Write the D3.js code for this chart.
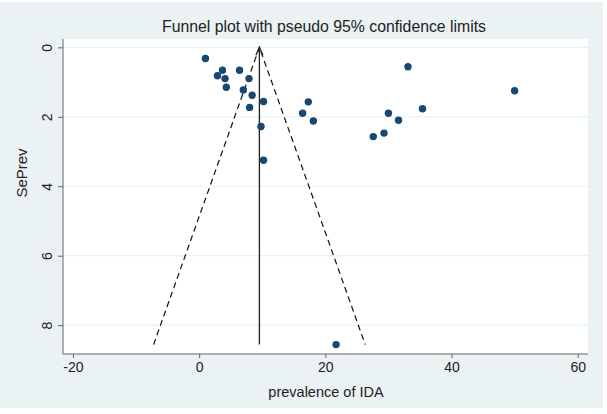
<!DOCTYPE html>
<html><head><meta charset="utf-8">
<script src="https://cdn.jsdelivr.net/npm/d3@7"></script>
<style>html,body{margin:0;padding:0;background:#fff;}svg{display:block;}</style>
</head><body>
<script>
// Data
const prevalence = [1.0, 3.7, 6.4, 2.9, 4.1, 7.9, 4.3, 7.0, 8.4, 10.2, 8.0, 17.3, 16.4, 9.8, 10.2, 18.1, 33.1, 30.0, 31.6, 27.6, 29.3, 35.4, 50.0, 21.7];
const sePrev     = [0.32, 0.66, 0.66, 0.82, 0.90, 0.90, 1.15, 1.23, 1.38, 1.56, 1.73, 1.57, 1.90, 2.28, 3.25, 2.12, 0.56, 1.90, 2.10, 2.57, 2.47, 1.77, 1.25, 8.56];
const pooled = 9.55;
const maxSe = 8.56;
const xTicks = [-20, 0, 20, 40, 60];
const yTicks = [0, 2, 4, 6, 8];
const titleText = "Funnel plot with pseudo 95% confidence limits";
const xLabel = "prevalence of IDA";
const yLabel = "SePrev";

const W = 607, H = 414;
const plot = {l: 63, r: 588, t: 39, b: 354};
const svg = d3.select("body").append("svg").attr("width", W).attr("height", H);
svg.append("rect").attr("x", 0).attr("y", 2).attr("width", 603).attr("height", 406).attr("fill", "#eaf2f3");
svg.append("rect").attr("x", plot.l).attr("y", plot.t).attr("width", plot.r - plot.l).attr("height", plot.b - plot.t).attr("fill", "#fff");

const x = d3.scaleLinear().domain([-21.58, 61.63]).range([plot.l, plot.r]);
const y = d3.scaleLinear().domain([-0.24, 8.83]).range([plot.t, plot.b]);

// grid
svg.append("g").selectAll("line").data(yTicks).join("line")
  .attr("x1", plot.l).attr("x2", plot.r).attr("y1", d => y(d)).attr("y2", d => y(d))
  .attr("stroke", "#e8f1f4").attr("stroke-width", 1.2);

const font = "'Liberation Sans', Arial, sans-serif";
const fmt = d => String(d);
// axes
const xAxis = svg.append("g").attr("transform", `translate(0,${plot.b})`)
  .call(d3.axisBottom(x).tickValues(xTicks).tickSize(4).tickPadding(4).tickFormat(fmt));
const yAxis = svg.append("g").attr("transform", `translate(${plot.l},0)`)
  .call(d3.axisLeft(y).tickValues(yTicks).tickSize(5).tickPadding(3).tickFormat(fmt));
[xAxis, yAxis].forEach(a => {
  a.select(".domain").attr("stroke", "#666").attr("stroke-width", 1);
  a.selectAll(".tick line").attr("stroke", "#666");
  a.selectAll("text").attr("fill", "#222").attr("font-family", font).attr("font-size", 14);
});
xAxis.select(".domain").attr("d", `M${plot.l},0H${plot.r}`);
yAxis.select(".domain").attr("d", `M0,${plot.t}V${plot.b}`);
yAxis.selectAll(".tick text").attr("transform", "rotate(-90)").attr("x", 0).attr("y", -11)
  .attr("text-anchor", "middle").attr("dy", "0");

// funnel lines
const lo = pooled - 1.96 * maxSe, hi = pooled + 1.96 * maxSe;
svg.append("path").attr("d", d3.line()([[x(lo), y(maxSe)], [x(pooled), y(0)], [x(hi), y(maxSe)]]))
  .attr("fill", "none").attr("stroke", "#111").attr("stroke-width", 1.2).attr("stroke-dasharray", "6,4");
svg.append("line").attr("x1", x(pooled)).attr("x2", x(pooled)).attr("y1", y(0)).attr("y2", y(maxSe))
  .attr("stroke", "#222").attr("stroke-width", 1.3);
svg.append("path").attr("d", `M${x(pooled)-3.5},${y(0)+8}L${x(pooled)},${y(0)}L${x(pooled)+3.5},${y(0)+8}`)
  .attr("fill", "none").attr("stroke", "#222").attr("stroke-width", 1.3);

// points
svg.append("g").selectAll("circle").data(prevalence).join("circle")
  .attr("cx", d => x(d)).attr("cy", (d, i) => y(sePrev[i])).attr("r", 3.7).attr("fill", "#1a476f");

// texts
svg.append("text").attr("x", 324).attr("y", 32).attr("text-anchor", "middle")
  .attr("font-family", font).attr("font-size", 15.8).attr("fill", "#222").text(titleText);
svg.append("text").attr("x", 326).attr("y", 397).attr("text-anchor", "middle")
  .attr("font-family", font).attr("font-size", 14.5).attr("fill", "#222").text(xLabel);
svg.append("text").attr("transform", "translate(27,173) rotate(-90)").attr("text-anchor", "middle")
  .attr("font-family", font).attr("font-size", 15).attr("fill", "#222").text(yLabel);
</script>
</body></html>
